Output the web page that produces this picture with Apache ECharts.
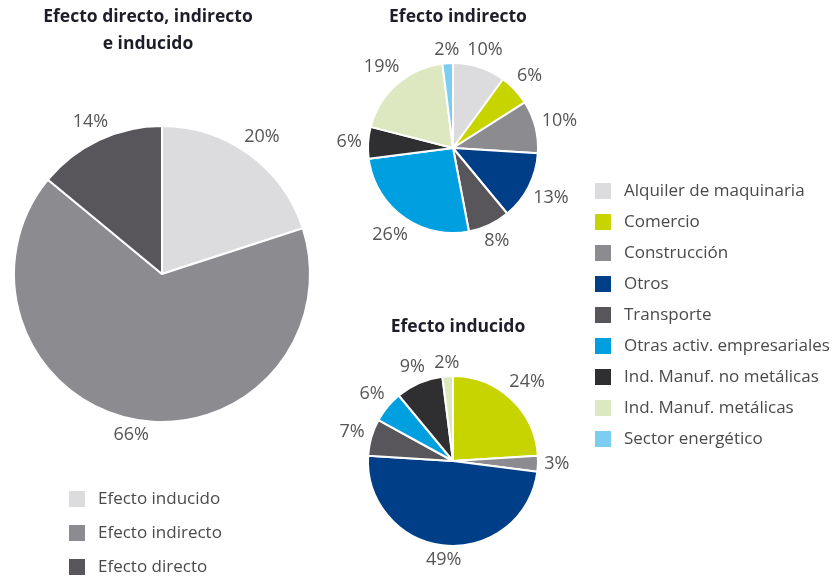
<!DOCTYPE html>
<html><head><meta charset="utf-8">
<script src="https://cdn.jsdelivr.net/npm/echarts@6/dist/echarts.min.js"></script>
<style>html,body{margin:0;padding:0;background:#fff}#c{width:840px;height:579px}</style>
</head><body><div id="c"></div>
<script>
var totalNames = ['Efecto inducido', 'Efecto indirecto', 'Efecto directo'];
var totalValues = [20, 66, 14];
var totalColors = ['#dcdcde', '#8c8b90', '#58565a'];

var sectorNames = ['Alquiler de maquinaria', 'Comercio', 'Construcción', 'Otros', 'Transporte',
  'Otras activ. empresariales', 'Ind. Manuf. no metálicas', 'Ind. Manuf. metálicas', 'Sector energético'];
var sectorColors = ['#dcdcde', '#c8d400', '#8c8b90', '#003f87', '#58565a', '#00a0e0', '#2f2e30', '#dde8c0', '#7dcdf0'];
var indirectValues = [10, 6, 10, 13, 8, 26, 6, 19, 2];
var inducedValues = [0, 24, 3, 49, 7, 6, 9, 2, 0];

var FONT = 'Open Sans';
function mk(names, vals, colors) {
  var out = [];
  for (var i = 0; i < names.length; i++) {
    if (vals[i] > 0) out.push({name: names[i], value: vals[i], itemStyle: {color: colors[i]}});
  }
  return out;
}
// visible pie slices, no labels
function pieSeries(name, center, r, data) {
  return {
    type: 'pie', name: name, center: center, radius: r, startAngle: 90, clockwise: true,
    avoidLabelOverlap: false, silent: true, animation: false,
    itemStyle: {borderColor: '#fff', borderWidth: 2},
    label: {show: false}, labelLine: {show: false},
    emphasis: {disabled: true}, data: data
  };
}
// transparent ring carrying the percentage labels; each label box is pushed out along its
// slice's mid-angle until it sits a small gap outside the pie's edge
function labelSeries(name, center, r, data) {
  var d = data.map(function (o) { return {name: o.name, value: o.value, itemStyle: {color: 'rgba(0,0,0,0)'}}; });
  var gap = 6;
  return {
    type: 'pie', name: name + '-labels', center: center, radius: [r + 2, r + 40], startAngle: 90, clockwise: true,
    avoidLabelOverlap: false, silent: true, animation: false, legendHoverLink: false,
    itemStyle: {borderWidth: 0},
    label: {show: true, position: 'inside', formatter: '{c}%', color: '#555555',
            fontFamily: FONT, fontSize: 18, fontWeight: 'normal'},
    labelLine: {show: false},
    labelLayout: function (p) {
      var lr = p.labelRect;
      var lx = lr.x + lr.width / 2, ly = lr.y + lr.height / 2;
      var dx = lx - center[0], dy = ly - center[1];
      var len = Math.sqrt(dx * dx + dy * dy) || 1;
      dx /= len; dy /= len;
      var dist = r + gap + (lr.width / 2) * Math.abs(dx) + 7 * Math.abs(dy);
      return {x: center[0] + dx * dist, y: center[1] + dy * dist};
    },
    emphasis: {disabled: true}, data: d
  };
}
var titleStyle = {fontFamily: FONT, fontWeight: 'bold', fontSize: 17.5, color: '#1e1e2a', lineHeight: 27};
var legendText = {fontFamily: FONT, fontSize: 17, color: '#4a4a4a', lineHeight: 18, padding: [0, 0, 0, 7]};

var totalData = mk(totalNames, totalValues, totalColors);
var indirectData = mk(sectorNames, indirectValues, sectorColors);
var inducedData = mk(sectorNames, inducedValues, sectorColors);

var chart = echarts.init(document.getElementById('c'));
chart.setOption({
  animation: false,
  title: [
    {text: 'Efecto directo, indirecto\ne inducido', left: 148, top: 4, padding: 0, textAlign: 'center', textStyle: titleStyle},
    {text: 'Efecto indirecto', left: 458, top: 4, padding: 0, textAlign: 'center', textStyle: titleStyle},
    {text: 'Efecto inducido', left: 458, top: 314, padding: 0, textAlign: 'center', textStyle: titleStyle}
  ],
  legend: [
    {data: totalNames, orient: 'vertical', left: 67, top: 489, height: 100, padding: 0, itemWidth: 18, itemHeight: 18, itemGap: 14,
     icon: 'rect', selectedMode: false, textStyle: legendText},
    {data: sectorNames, orient: 'vertical', left: 593, top: 181, height: 300, padding: 0, itemWidth: 18, itemHeight: 18, itemGap: 11,
     icon: 'rect', selectedMode: false, textStyle: legendText}
  ],
  series: [
    pieSeries('total', [162, 274], 148, totalData),
    pieSeries('indirecto', [453, 148], 85, indirectData),
    pieSeries('inducido', [453, 461], 85, inducedData),
    labelSeries('total', [162, 274], 148, totalData),
    labelSeries('indirecto', [453, 148], 85, indirectData),
    labelSeries('inducido', [453, 461], 85, inducedData)
  ]
});
</script></body></html>
